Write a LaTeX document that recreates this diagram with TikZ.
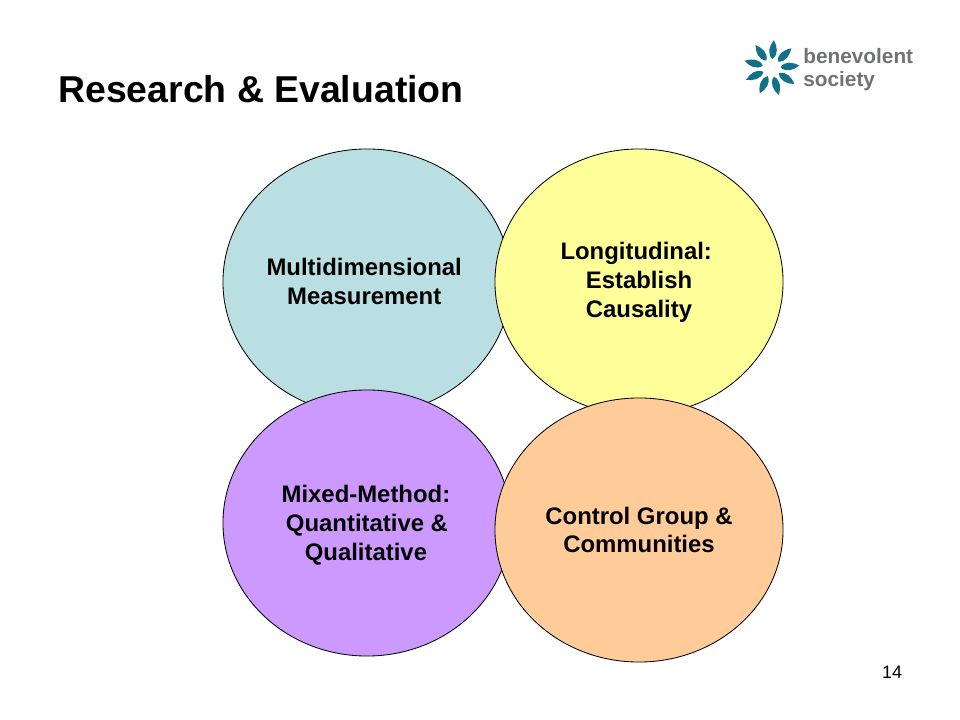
\documentclass[tikz,border=0pt]{standalone}
\usepackage{fontspec}
\setmainfont{Liberation Sans}
\usetikzlibrary{shapes.geometric}
\definecolor{tealbubble}{HTML}{B9DFE3}
\definecolor{yellowbubble}{HTML}{FFFF99}
\definecolor{purplebubble}{HTML}{CC99FF}
\definecolor{orangebubble}{HTML}{FFCC99}
\definecolor{logoteal}{HTML}{12708A}
\definecolor{logogrey}{HTML}{707274}
\begin{document}
\begin{tikzpicture}[
        x = 0.025cm, y = -0.025cm,
        bubble/.style = {
            draw = black, semithick,
            ellipse,
            text = black,
            font = \fontsize{17}{20.5}\selectfont\bfseries,
            minimum width = 7.2cm,
            minimum height = 6.65cm,
            inner sep = 0pt,
            outer sep = 0pt,
            align = center,
        },
        logotext/.style = {
            anchor = base west,
            inner sep = 0pt,
            text = logogrey,
            font = \fontsize{14.8}{20}\selectfont\bfseries,
        }
    ]
    \useasboundingbox (0, 0) rectangle (960, 720);

    \node[anchor=base west,inner sep=0pt,font=\fontsize{26.6}{30}\selectfont\bfseries]
        (title) at (58, 103) {Research \& Evaluation};

    \node[bubble,fill=tealbubble]   (measure) at (367, 282) {Multidimensional\hspace*{4pt}\\Measurement\hspace*{4pt}\rule[-1.4pt]{0pt}{0pt}};
    \node[bubble,fill=yellowbubble] (causal)  at (639, 282) {Longitudinal:\hspace*{4pt}\\Establish\\Causality};
    \node[bubble,fill=purplebubble] (mixed)   at (367, 523) {\rule{0pt}{15pt}Mixed-Method:\hspace*{1.5pt}\\Quantitative \&\hspace*{1.5pt}\\Qualitative\hspace*{1.5pt}};
    \node[bubble,fill=orangebubble,minimum height=6.6cm] (control) at (639, 530) {Control Group \&\\Communities};

    % logo
    \foreach \ang in {85, 45, 5, -35, -75, -115, -155, -195, -235} {
        \fill[logoteal, shift={(771.5, 68)}, rotate=\ang]
            (9, 0) .. controls (14, 6) and (22, 4) .. (28, 0)
            .. controls (22, -4) and (14, -6) .. (9, 0) -- cycle;
    }
    \node[logotext] (logoa) at (803, 64) {benevolent};
    \node[logotext] (logob) at (803, 87) {society};

    \node[anchor=base,inner sep=0pt,font=\fontsize{12.8}{15}\selectfont]
        (page) at (892, 678) {14};
\end{tikzpicture}
\end{document}
